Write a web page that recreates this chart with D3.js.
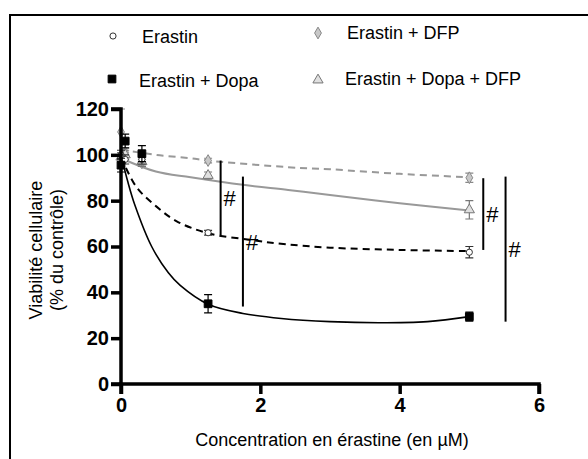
<!DOCTYPE html>
<html><head><meta charset="utf-8">
<script src="https://cdn.jsdelivr.net/npm/d3@7"></script>
<style>body{margin:0;background:#fff}svg{display:block}text{font-family:Arial,"Liberation Sans",sans-serif}</style>
</head><body><svg id="c" width="588" height="459"></svg>
<script>
// ---- data ----
const seriesNames = ["Erastin", "Erastin + DFP", "Erastin + Dopa", "Erastin + Dopa + DFP"];
const doses = [0, 0.06, 0.3, 1.25, 5];
const erastinMean = [100, 98, 98, 66, 57.5];
const erastinErr  = [2, 2, 2, 1, 2.5];
const dfpMean = [110, 101, 96.5, 97.5, 90];
const dfpErr  = [10, 2, 1.5, 1, 2];
const dopaMean = [95.5, 106, 100.5, 35, 29.4];
const dopaErr  = [3, 3, 3.5, 4, 2];
const dopaDfpMean = [99, 100, 97, 91, 76];
const dopaDfpErr  = [2, 2, 2, 1.5, 4];
// fitted curves
const fitErastinX = [0, 0.22, 0.51, 0.8, 1.25, 1.85, 2.33, 3, 4, 5];
const fitErastinY = [99, 86, 77.4, 71, 65.8, 62.9, 61.1, 59.5, 58.5, 58];
const fitDfpX = [0, 0.5, 1, 1.25, 2.4, 3, 4, 5];
const fitDfpY = [102.2, 100, 98.5, 97.5, 94.6, 93.7, 91.7, 90.2];
const fitDopaX = [0, 0.1, 0.2, 0.44, 0.68, 0.85, 1.25, 1.75, 2.3, 3, 3.7, 4.4, 5];
const fitDopaY = [100, 88, 78, 60, 48.5, 43, 34.8, 30.8, 28.6, 27.2, 26.7, 27.2, 29.4];
const fitDopaDfpX = [0, 0.5, 1, 1.75, 2.4, 3, 4, 5];
const fitDopaDfpY = [98.5, 92.7, 90.2, 86.9, 84.7, 82.5, 78.9, 75.7];
// significance brackets (data units)
const sigX = [1.43, 1.75, 5.2, 5.52];
const sigTop = [97.5, 90.5, 89.8, 90.5];
const sigBottom = [65, 33.8, 58.5, 27.2];
const xTicks = [0, 2, 4, 6];
const yTicks = [0, 20, 40, 60, 80, 100, 120];

// ---- drawing ----
const svg = d3.select("#c");
const x = d3.scaleLinear().domain([0, 6]).range([121, 539]);
const y = d3.scaleLinear().domain([0, 120]).range([384, 109]);

// frame
svg.append("path").attr("d", "M10,459 V15 H588").attr("fill", "none").attr("stroke", "#000").attr("stroke-width", 2);

const line = d3.line().x(d => x(d[0])).y(d => y(d[1])).curve(d3.curveCatmullRom.alpha(0.5));
const zip = (a, b) => a.map((v, i) => [v, b[i]]);

svg.append("path").attr("d", line(zip(fitDfpX, fitDfpY))).attr("fill", "none")
  .attr("stroke", "#999").attr("stroke-width", 2).attr("stroke-dasharray", "7,5");
svg.append("path").attr("d", line(zip(fitDopaDfpX, fitDopaDfpY))).attr("fill", "none")
  .attr("stroke", "#999").attr("stroke-width", 2);
svg.append("path").attr("d", line(zip(fitErastinX, fitErastinY))).attr("fill", "none")
  .attr("stroke", "#000").attr("stroke-width", 2).attr("stroke-dasharray", "7,5");
svg.append("path").attr("d", line(zip(fitDopaX, fitDopaY))).attr("fill", "none")
  .attr("stroke", "#000").attr("stroke-width", 1.6);

// markers
const sym = {
  circle: d3.symbol().type(d3.symbolCircle).size(30),
  diamond: d3.symbol().type(d3.symbolDiamond).size(40),
  square: d3.symbol().type(d3.symbolSquare).size(60),
  triangle: d3.symbol().type(d3.symbolTriangle).size(45)
};
const series = [
  {mean: dfpMean, err: dfpErr, sym: sym.diamond, fill: "#c8c8c8", stroke: "#888", ebar: "#888"},
  {mean: dopaDfpMean, err: dopaDfpErr, sym: sym.triangle, fill: "#e0e0e0", stroke: "#777", ebar: "#777"},
  {mean: erastinMean, err: erastinErr, sym: sym.circle, fill: "#fff", stroke: "#333", ebar: "#333"},
  {mean: dopaMean, err: dopaErr, sym: sym.square, fill: "#000", stroke: "#000", ebar: "#000"}
];
series.forEach(s => {
  const g = svg.append("g");
  doses.forEach((d, i) => {
    const cx = x(d), cy = y(s.mean[i]);
    const t = y(s.mean[i] + s.err[i]), b = y(s.mean[i] - s.err[i]);
    g.append("path").attr("d", `M${cx},${t}V${b}M${cx-4},${t}H${cx+4}M${cx-4},${b}H${cx+4}`)
      .attr("stroke", s.ebar).attr("stroke-width", 1.2).attr("fill", "none");
    g.append("path").attr("d", s.sym()).attr("transform", `translate(${cx},${cy})`)
      .attr("fill", s.fill).attr("stroke", s.stroke).attr("stroke-width", 1);
  });
});

// significance
sigX.forEach((sx, i) => {
  svg.append("line").attr("x1", x(sx)).attr("x2", x(sx)).attr("y1", y(sigTop[i])).attr("y2", y(sigBottom[i]))
    .attr("stroke", "#000").attr("stroke-width", 2);
  svg.append("text").attr("x", x(sx) + 3).attr("y", y((sigTop[i] + sigBottom[i]) / 2) + 8)
    .attr("font-size", 22).text("#");
});

// axes
const yAxis = svg.append("g").attr("transform", "translate(121,0)")
  .call(d3.axisLeft(y).tickValues(yTicks).tickSize(10).tickPadding(2).tickFormat(d3.format("d")));
const xAxis = svg.append("g").attr("transform", "translate(0,384)")
  .call(d3.axisBottom(x).tickValues(xTicks).tickSize(10).tickPadding(4).tickFormat(d3.format("d")));
[yAxis, xAxis].forEach(a => {
  a.select(".domain").attr("stroke-width", 3.5).attr("stroke", "#000");
  a.selectAll(".tick line").attr("stroke-width", 3.5).attr("stroke", "#000");
  a.selectAll(".tick text").attr("font-size", 20).attr("font-weight", "bold")
    .attr("font-family", "Arial, 'Liberation Sans', sans-serif").attr("fill", "#000");
});
yAxis.select(".domain").attr("d", "M-10,384H0V109H-10");
xAxis.select(".domain").attr("d", "M121,10V0H539V10");

// axis titles
svg.append("text").attr("x", 332).attr("y", 446).attr("text-anchor", "middle").attr("font-size", 18)
  .text("Concentration en érastine (en µM)");
const yt = svg.append("text").attr("transform", "translate(42,250) rotate(-90)").attr("text-anchor", "middle").attr("font-size", 18);
yt.append("tspan").attr("x", 0).attr("dy", 0).text("Viabilité cellulaire");
yt.append("tspan").attr("x", 0).attr("dy", 21).text("(% du contrôle)");

// legend
const legSym = [sym.circle, sym.diamond, sym.square, sym.triangle];
const legFill = ["#fff", "#c8c8c8", "#000", "#e0e0e0"];
const legStroke = ["#333", "#888", "#000", "#777"];
const legPos = [[113, 36, 142, 43], [318, 33, 347, 39], [112, 79, 139, 87], [318, 80, 345, 85]];
seriesNames.forEach((n, i) => {
  const p = legPos[i];
  svg.append("path").attr("d", legSym[i]()).attr("transform", `translate(${p[0]},${p[1]})`)
    .attr("fill", legFill[i]).attr("stroke", legStroke[i]);
  svg.append("text").attr("x", p[2]).attr("y", p[3]).attr("font-size", 18).text(n);
});
</script></body></html>
